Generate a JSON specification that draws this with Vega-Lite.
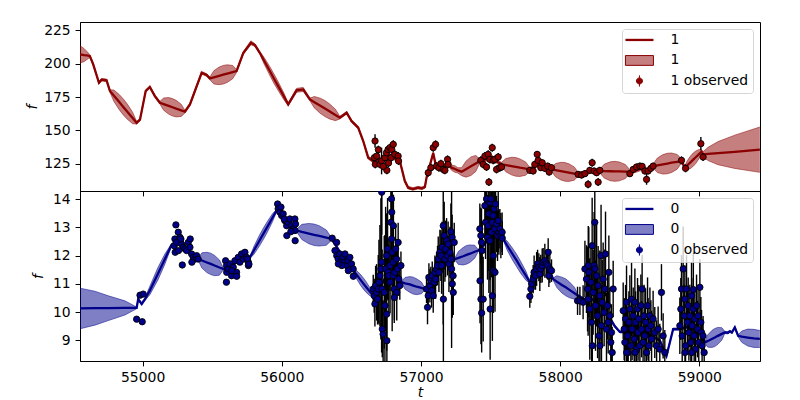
{
"$schema": "https://vega.github.io/schema/vega-lite/v6.json",
"padding": {"left": 25, "top": 21, "right": 5, "bottom": 5},
"config": {
 "font": "DejaVu Sans",
 "view": {"stroke": "black", "strokeWidth": 1},
 "axis": {"labelFontSize": 13.9, "titleFontSize": 13.9, "labelColor": "black", "titleColor": "black", "tickColor": "black", "domainColor": "black", "grid": false, "tickSize": 4.9, "labelPadding": 4.9, "tickWidth": 1, "domainWidth": 1, "titleFontWeight": "normal", "titleFontStyle": "italic", "labelFont": "DejaVu Sans", "titleFont": "DejaVu Sans"},
 "legend": {"labelFont": "DejaVu Sans", "labelFontSize": 13.9, "labelColor": "black"}
},
"datasets": {
 "gpTop": [
  {"t":54550,"m":207,"h":6.5},{"t":54578,"m":206.5,"h":5},{"t":54600,"m":206.2,"h":3},{"t":54621,"m":205.7,"h":1},
  {"t":54645,"m":199.5,"h":1},{"t":54686,"m":185.7,"h":1},{"t":54705,"m":188,"h":1},{"t":54741,"m":187.5,"h":1},
  {"t":54765,"m":179.5,"h":1},{"t":54794,"m":175.9,"h":4.3},{"t":54832,"m":171.2,"h":5.7},{"t":54861,"m":167.6,"h":6},
  {"t":54890,"m":164.0,"h":5.7},{"t":54928,"m":159.3,"h":4.3},{"t":54957,"m":155.7,"h":1},{"t":54981,"m":158,"h":1},
  {"t":55022,"m":179.5,"h":1},{"t":55052,"m":182.5,"h":1},{"t":55088,"m":175.7,"h":1},{"t":55124,"m":170.7,"h":1},
  {"t":55151,"m":169.7,"h":4.6},{"t":55187,"m":168.4,"h":6.2},{"t":55214,"m":167.35,"h":6.5},{"t":55241,"m":166.3,"h":6.2},
  {"t":55277,"m":165.0,"h":4.6},{"t":55304,"m":164,"h":1},{"t":55340,"m":169.5,"h":1},{"t":55424,"m":193.2,"h":1},
  {"t":55460,"m":191.5,"h":1},{"t":55483,"m":189,"h":1},{"t":55512,"m":189.8,"h":5},{"t":55550,"m":190.9,"h":6.6},
  {"t":55579,"m":191.75,"h":7},{"t":55608,"m":192.6,"h":6.6},{"t":55647,"m":193.7,"h":5},{"t":55675,"m":194.5,"h":1},
  {"t":55723,"m":208,"h":1},{"t":55778,"m":215.7,"h":1.5},{"t":55807,"m":214,"h":1},{"t":55843,"m":208,"h":1},
  {"t":55873,"m":202.2,"h":2.5},{"t":55914,"m":194.5,"h":3.3},{"t":55944,"m":188.75,"h":3.5},{"t":55975,"m":183,"h":3.3},
  {"t":56016,"m":175.3,"h":2.5},{"t":56046,"m":169.5,"h":1},{"t":56106,"m":180,"h":1.5},{"t":56154,"m":180.7,"h":1.5},
  {"t":56202,"m":173.2,"h":1},{"t":56234,"m":171.1,"h":4.3},{"t":56277,"m":168.4,"h":5.7},{"t":56310,"m":166.35,"h":6},
  {"t":56342,"m":164.3,"h":5.7},{"t":56385,"m":161.6,"h":4.3},{"t":56417,"m":159.5,"h":1},{"t":56466,"m":163.2,"h":1},
  {"t":56501,"m":157,"h":1},{"t":56549,"m":152,"h":1},{"t":56585,"m":142,"h":1},{"t":56621,"m":129.5,"h":1},
  {"t":56657,"m":127,"h":1.5},{"t":56705,"m":128,"h":1.5},{"t":56777,"m":131,"h":1.5},{"t":56848,"m":127,"h":1.5},
  {"t":56884,"m":112,"h":1},{"t":56908,"m":107,"h":1},{"t":56942,"m":106,"h":1},{"t":56978,"m":107,"h":1},
  {"t":57007,"m":106.5,"h":1},{"t":57028,"m":107.5,"h":1},{"t":57040,"m":114.5,"h":1},{"t":57088,"m":133,"h":1},
  {"t":57105,"m":124.5,"h":1},{"t":57136,"m":123.2,"h":1},{"t":57195,"m":124.5,"h":1},{"t":57220,"m":122,"h":2},
  {"t":57244,"m":121,"h":2.5},{"t":57265,"m":120,"h":2},{"t":57292,"m":119,"h":3},{"t":57323,"m":120.9,"h":6},
  {"t":57359,"m":123.1,"h":7},{"t":57394,"m":125.2,"h":6},{"t":57423,"m":127,"h":1.5},{"t":57459,"m":128,"h":1.5},
  {"t":57509,"m":130,"h":1.5},{"t":57553,"m":126,"h":1.5},{"t":57579,"m":124.5,"h":1.5},{"t":57610,"m":123.9,"h":5},
  {"t":57650,"m":123.2,"h":6.6},{"t":57681,"m":122.6,"h":7},{"t":57711,"m":122.0,"h":6.6},{"t":57752,"m":121.3,"h":5},
  {"t":57782,"m":120.7,"h":1.5},{"t":57833,"m":124,"h":1.5},{"t":57890,"m":122.5,"h":1.5},{"t":57938,"m":120.7,"h":1.5},
  {"t":57967,"m":120.1,"h":5},{"t":58005,"m":119.4,"h":6.6},{"t":58034,"m":118.85,"h":7},{"t":58063,"m":118.3,"h":6.6},
  {"t":58101,"m":117.6,"h":5},{"t":58129,"m":117,"h":1.5},{"t":58178,"m":118,"h":1.5},{"t":58228,"m":119.5,"h":1.5},
  {"t":58285,"m":119.5,"h":1.5},{"t":58318,"m":119.4,"h":5.3},{"t":58361,"m":119.3,"h":7.1},{"t":58393,"m":119.25,"h":7.5},
  {"t":58425,"m":119.2,"h":7.1},{"t":58468,"m":119.1,"h":5.3},{"t":58501,"m":119,"h":1.5},{"t":58544,"m":120,"h":1.5},
  {"t":58587,"m":121.5,"h":1.5},{"t":58630,"m":120,"h":1.5},{"t":58668,"m":123.2,"h":1.5},{"t":58699,"m":123.8,"h":5.5},
  {"t":58739,"m":124.5,"h":7.3},{"t":58770,"m":125.1,"h":7.7},{"t":58801,"m":125.7,"h":7.3},{"t":58841,"m":126.4,"h":5.5},
  {"t":58872,"m":127,"h":1.5},{"t":58896,"m":122,"h":1.5},{"t":58914,"m":123.8,"h":3.5},{"t":58938,"m":126.2,"h":4.7},
  {"t":58956,"m":128,"h":5},{"t":58974,"m":129.8,"h":4.7},{"t":58998,"m":132.2,"h":3.5},{"t":59016,"m":134,"h":1.5},
  {"t":59027,"m":132,"h":2},{"t":59063,"m":132.3,"h":5},{"t":59135,"m":132.9,"h":8.7},{"t":59255,"m":133.9,"h":12.5},
  {"t":59435,"m":135.5,"h":17}
 ],
 "obsTop": [
  {"t":56670,"m":142,"h":5},{"t":56694,"m":135.5,"h":3},{"t":56665,"m":129.5,"h":3},{"t":56682,"m":130.7,"h":3},
  {"t":56672,"m":124.5,"h":3},{"t":56705,"m":124.5,"h":3},{"t":56717,"m":127,"h":10},{"t":56741,"m":129.5,"h":3},
  {"t":56752,"m":133.2,"h":3},{"t":56764,"m":135.7,"h":3},{"t":56777,"m":137,"h":3},{"t":56790,"m":135.7,"h":3},
  {"t":56801,"m":139.5,"h":3},{"t":56755,"m":120,"h":3},{"t":56729,"m":123,"h":3},{"t":56767,"m":125.5,"h":3},
  {"t":56786,"m":129.5,"h":3},{"t":56812,"m":132,"h":3},{"t":56836,"m":130.7,"h":3},{"t":56839,"m":127,"h":3},
  {"t":57052,"m":118.2,"h":3},{"t":57071,"m":122,"h":3},{"t":57088,"m":137,"h":3},{"t":57105,"m":139.5,"h":3},
  {"t":57112,"m":123.2,"h":3},{"t":57129,"m":122,"h":3},{"t":57143,"m":125,"h":3},{"t":57160,"m":120.7,"h":3},
  {"t":57172,"m":120,"h":3},{"t":57191,"m":128.2,"h":3},{"t":57195,"m":124.5,"h":3},
  {"t":57430,"m":127.5,"h":3},{"t":57447,"m":124.5,"h":3},{"t":57459,"m":130.7,"h":3},{"t":57471,"m":122.5,"h":3},
  {"t":57483,"m":132,"h":3},{"t":57495,"m":128.2,"h":3},{"t":57512,"m":137,"h":3},{"t":57519,"m":127.5,"h":3},
  {"t":57531,"m":128.2,"h":3},{"t":57543,"m":120.7,"h":3},{"t":57555,"m":130,"h":3},{"t":57567,"m":122,"h":3},
  {"t":57579,"m":122.5,"h":3},{"t":57488,"m":111.2,"h":3},
  {"t":57782,"m":120,"h":2.5},{"t":57806,"m":119.5,"h":2.5},{"t":57818,"m":124.5,"h":2.5},{"t":57835,"m":132,"h":2.5},
  {"t":57842,"m":127.5,"h":2.5},{"t":57861,"m":122,"h":2.5},{"t":57871,"m":125.7,"h":2.5},{"t":57890,"m":121.5,"h":2.5},
  {"t":57910,"m":123.2,"h":2.5},{"t":57921,"m":118.7,"h":2.5},{"t":57938,"m":122,"h":2.5},
  {"t":58129,"m":117,"h":2.5},{"t":58154,"m":116.5,"h":2.5},{"t":58178,"m":117.5,"h":2.5},{"t":58201,"m":109.5,"h":3},
  {"t":58213,"m":120,"h":2.5},{"t":58230,"m":125.7,"h":3},{"t":58244,"m":119.5,"h":2.5},{"t":58262,"m":118.2,"h":2.5},
  {"t":58273,"m":111.2,"h":3},{"t":58285,"m":120,"h":2.5},
  {"t":58501,"m":117.5,"h":2.5},{"t":58525,"m":120.7,"h":2.5},{"t":58549,"m":122.5,"h":2.5},{"t":58573,"m":123.2,"h":2.5},
  {"t":58589,"m":123,"h":2.5},{"t":58609,"m":119.5,"h":2.5},{"t":58621,"m":113.2,"h":4},{"t":58632,"m":119.5,"h":2.5},
  {"t":58652,"m":121.5,"h":2.5},{"t":58668,"m":123.2,"h":2.5},
  {"t":58872,"m":127.5,"h":3},{"t":58901,"m":121.5,"h":3},{"t":59011,"m":140,"h":5},{"t":59027,"m":130,"h":3}
 ],
 "gpBot": [
  {"t":54550,"m":10.13,"h":0.72},{"t":54657,"m":10.14,"h":0.6},{"t":54753,"m":10.14,"h":0.44},{"t":54873,"m":10.15,"h":0.25},
  {"t":54923,"m":10.15,"h":0.12},{"t":54957,"m":10.15,"h":0.03},{"t":54968,"m":10.46,"h":0.04},{"t":54993,"m":10.29,"h":0.04},
  {"t":55017,"m":10.46,"h":0.05},{"t":55052,"m":10.77,"h":0.15},{"t":55110,"m":11.36,"h":0.22},{"t":55160,"m":11.88,"h":0.18},
  {"t":55208,"m":12.38,"h":0.05},{"t":55239,"m":12.45,"h":0.04},{"t":55304,"m":12.3,"h":0.04},{"t":55354,"m":12.1,"h":0.04},
  {"t":55399,"m":11.88,"h":0.04},{"t":55426,"m":11.83,"h":0.27},{"t":55462,"m":11.76,"h":0.36},{"t":55489,"m":11.71,"h":0.38},
  {"t":55517,"m":11.65,"h":0.36},{"t":55552,"m":11.58,"h":0.27},{"t":55579,"m":11.53,"h":0.04},{"t":55613,"m":11.5,"h":0.04},
  {"t":55677,"m":11.8,"h":0.04},{"t":55735,"m":11.95,"h":0.04},{"t":55771,"m":11.94,"h":0.04},{"t":55800,"m":12.19,"h":0.14},
  {"t":55838,"m":12.52,"h":0.19},{"t":55867,"m":12.77,"h":0.2},{"t":55896,"m":13.02,"h":0.19},{"t":55934,"m":13.35,"h":0.14},
  {"t":55963,"m":13.6,"h":0.04},{"t":56001,"m":13.45,"h":0.04},{"t":56058,"m":13.15,"h":0.04},{"t":56106,"m":12.89,"h":0.04},
  {"t":56144,"m":12.84,"h":0.27},{"t":56195,"m":12.78,"h":0.36},{"t":56232,"m":12.74,"h":0.38},{"t":56269,"m":12.7,"h":0.36},
  {"t":56320,"m":12.64,"h":0.27},{"t":56358,"m":12.59,"h":0.04},{"t":56396,"m":12.3,"h":0.04},{"t":56446,"m":11.9,"h":0.04},
  {"t":56489,"m":11.7,"h":0.04},{"t":56513,"m":11.47,"h":0.04},{"t":56535,"m":11.34,"h":0.14},{"t":56563,"m":11.16,"h":0.19},
  {"t":56585,"m":11.02,"h":0.2},{"t":56606,"m":10.89,"h":0.19},{"t":56635,"m":10.71,"h":0.14},{"t":56657,"m":10.58,"h":0.04},
  {"t":56690,"m":10.7,"h":0.04},{"t":56741,"m":11.2,"h":0.04},{"t":56791,"m":11.5,"h":0.04},{"t":56834,"m":11.3,"h":0.04},
  {"t":56861,"m":11.06,"h":0.04},{"t":56886,"m":11.02,"h":0.21},{"t":56920,"m":10.98,"h":0.28},{"t":56944,"m":10.94,"h":0.3},
  {"t":56969,"m":10.9,"h":0.28},{"t":57003,"m":10.86,"h":0.21},{"t":57028,"m":10.82,"h":0.04},{"t":57050,"m":10.8,"h":0.04},
  {"t":57100,"m":11.1,"h":0.04},{"t":57150,"m":11.6,"h":0.04},{"t":57201,"m":11.9,"h":0.04},{"t":57244,"m":11.88,"h":0.04},
  {"t":57269,"m":11.92,"h":0.23},{"t":57303,"m":11.98,"h":0.31},{"t":57327,"m":12.03,"h":0.33},{"t":57352,"m":12.07,"h":0.31},
  {"t":57386,"m":12.14,"h":0.23},{"t":57411,"m":12.18,"h":0.04},{"t":57459,"m":12.4,"h":0.04},{"t":57509,"m":12.9,"h":0.04},
  {"t":57553,"m":12.9,"h":0.04},{"t":57591,"m":12.59,"h":0.04},{"t":57619,"m":12.36,"h":0.16},{"t":57657,"m":12.06,"h":0.21},
  {"t":57687,"m":11.83,"h":0.22},{"t":57716,"m":11.59,"h":0.21},{"t":57754,"m":11.29,"h":0.16},{"t":57782,"m":11.06,"h":0.04},
  {"t":57818,"m":11.3,"h":0.04},{"t":57869,"m":11.6,"h":0.04},{"t":57912,"m":11.6,"h":0.04},{"t":57950,"m":11.17,"h":0.04},
  {"t":57976,"m":11.08,"h":0.21},{"t":58012,"m":10.96,"h":0.28},{"t":58040,"m":10.88,"h":0.3},{"t":58067,"m":10.79,"h":0.28},
  {"t":58103,"m":10.67,"h":0.21},{"t":58129,"m":10.58,"h":0.04},{"t":58178,"m":10.45,"h":0.04},{"t":58213,"m":10.5,"h":0.04},
  {"t":58285,"m":10.3,"h":0.04},{"t":58357,"m":9.8,"h":0.04},{"t":58393,"m":9.5,"h":0.04},{"t":58429,"m":9.3,"h":0.04},
  {"t":58501,"m":9.3,"h":0.04},{"t":58573,"m":9.3,"h":0.04},{"t":58645,"m":9.2,"h":0.04},{"t":58716,"m":9.0,"h":0.04},
  {"t":58764,"m":8.45,"h":0.04},{"t":58812,"m":9.4,"h":0.04},{"t":58860,"m":9.4,"h":0.04},{"t":58932,"m":9.5,"h":0.04},
  {"t":59004,"m":9.3,"h":0.04},{"t":59040,"m":8.93,"h":0.04},{"t":59061,"m":8.98,"h":0.22},{"t":59090,"m":9.05,"h":0.3},
  {"t":59111,"m":9.1,"h":0.32},{"t":59133,"m":9.16,"h":0.3},{"t":59162,"m":9.23,"h":0.22},{"t":59183,"m":9.28,"h":0.04},
  {"t":59205,"m":9.27,"h":0.04},{"t":59219,"m":9.32,"h":0.04},{"t":59234,"m":9.28,"h":0.04},{"t":59255,"m":9.46,"h":0.04},
  {"t":59279,"m":9.16,"h":0.04},{"t":59305,"m":9.13,"h":0.2},{"t":59348,"m":9.1,"h":0.3},{"t":59392,"m":9.07,"h":0.32},
  {"t":59435,"m":9.05,"h":0.3}
 ],
 "obsBot": [
  {"t":54981,"m":10.6,"h":0.06},{"t":55004,"m":10.64,"h":0.06},{"t":54957,"m":9.75,"h":0.06},{"t":54997,"m":9.66,"h":0.06},
  {"t":55239,"m":13.09,"h":0.06},{"t":55256,"m":12.83,"h":0.06},{"t":55232,"m":12.59,"h":0.06},{"t":55227,"m":12.35,"h":0.06},
  {"t":55244,"m":12.47,"h":0.06},{"t":55268,"m":12.65,"h":0.1},{"t":55280,"m":12.41,"h":0.06},{"t":55292,"m":12.3,"h":0.08},
  {"t":55304,"m":12.24,"h":0.06},{"t":55316,"m":12.18,"h":0.06},{"t":55328,"m":12.47,"h":0.1},{"t":55340,"m":12.3,"h":0.06},
  {"t":55352,"m":12.06,"h":0.06},{"t":55364,"m":11.94,"h":0.06},{"t":55376,"m":11.88,"h":0.06},{"t":55388,"m":12.0,"h":0.06},
  {"t":55399,"m":11.88,"h":0.06},{"t":55234,"m":12.12,"h":0.06},{"t":55285,"m":11.67,"h":0.06},{"t":55342,"m":12.59,"h":0.06},
  {"t":55354,"m":11.77,"h":0.06},{"t":55258,"m":12.18,"h":0.06},{"t":55275,"m":12.59,"h":0.06},
  {"t":55596,"m":11.82,"h":0.06},{"t":55603,"m":11.65,"h":0.06},{"t":55604,"m":11.41,"h":0.06},{"t":55602,"m":11.06,"h":0.06},
  {"t":55615,"m":11.53,"h":0.06},{"t":55627,"m":11.71,"h":0.06},{"t":55639,"m":11.29,"h":0.06},{"t":55651,"m":11.59,"h":0.06},
  {"t":55663,"m":11.82,"h":0.06},{"t":55675,"m":11.41,"h":0.06},{"t":55687,"m":11.94,"h":0.06},{"t":55699,"m":11.77,"h":0.06},
  {"t":55711,"m":12.06,"h":0.06},{"t":55723,"m":11.88,"h":0.1},{"t":55735,"m":12.12,"h":0.1},{"t":55747,"m":11.94,"h":0.06},
  {"t":55759,"m":11.77,"h":0.06},{"t":55760,"m":11.65,"h":0.06},{"t":55676,"m":11.27,"h":0.06},{"t":55640,"m":11.47,"h":0.06},
  {"t":55754,"m":11.88,"h":0.06},{"t":55764,"m":11.7,"h":0.06},
  {"t":55970,"m":13.83,"h":0.1},{"t":55974,"m":13.66,"h":0.06},{"t":55986,"m":13.54,"h":0.06},{"t":55999,"m":13.42,"h":0.06},
  {"t":56010,"m":13.48,"h":0.06},{"t":56022,"m":13.24,"h":0.06},{"t":56035,"m":13.06,"h":0.06},{"t":56046,"m":13.18,"h":0.06},
  {"t":56058,"m":13.3,"h":0.06},{"t":56070,"m":13.06,"h":0.06},{"t":56082,"m":12.95,"h":0.06},{"t":56094,"m":13.3,"h":0.06},
  {"t":56099,"m":13.12,"h":0.06},{"t":56095,"m":12.89,"h":0.06},{"t":56036,"m":12.71,"h":0.06},{"t":56096,"m":12.53,"h":0.06},
  {"t":55994,"m":13.72,"h":0.06},{"t":56017,"m":13.3,"h":0.06},{"t":56065,"m":12.85,"h":0.06},
  {"t":56362,"m":12.62,"h":0.06},{"t":56394,"m":12.47,"h":0.06},{"t":56382,"m":12.18,"h":0.06},{"t":56395,"m":12.0,"h":0.06},
  {"t":56405,"m":11.88,"h":0.06},{"t":56417,"m":12.06,"h":0.06},{"t":56430,"m":11.82,"h":0.06},{"t":56441,"m":11.94,"h":0.06},
  {"t":56453,"m":11.77,"h":0.06},{"t":56466,"m":11.65,"h":0.06},{"t":56477,"m":11.82,"h":0.06},{"t":56489,"m":11.94,"h":0.06},
  {"t":56501,"m":11.71,"h":0.06},{"t":56513,"m":11.53,"h":0.06},{"t":56514,"m":11.27,"h":0.06},{"t":56431,"m":11.65,"h":0.06},
  {"t":56454,"m":12.06,"h":0.06},{"t":56478,"m":11.47,"h":0.06},{"t":56406,"m":11.71,"h":0.06},
  {"t":56657,"m":10.82,"h":0.5},{"t":56664,"m":10.58,"h":0.6},{"t":56669,"m":10.29,"h":0.8},{"t":56674,"m":10.94,"h":0.7},
  {"t":56681,"m":10.7,"h":1.0},{"t":56688,"m":10.46,"h":0.9},{"t":56693,"m":10.82,"h":1.2},{"t":56698,"m":11.06,"h":1.5},
  {"t":56705,"m":11.29,"h":1.8},{"t":56712,"m":11.53,"h":2.5},{"t":56717,"m":11.77,"h":3.2},{"t":56721,"m":10.82,"h":1.4},
  {"t":56722,"m":9.4,"h":1.0},{"t":56728,"m":9.22,"h":1.2},{"t":56736,"m":10.7,"h":2.0},{"t":56741,"m":10.23,"h":2.5},
  {"t":56746,"m":11.53,"h":2.2},{"t":56753,"m":12.0,"h":1.5},{"t":56754,"m":9.93,"h":1.3},{"t":56760,"m":12.24,"h":1.8},
  {"t":56764,"m":11.41,"h":1.0},{"t":56769,"m":11.29,"h":1.3},{"t":56777,"m":11.65,"h":0.9},{"t":56778,"m":11.06,"h":1.1},
  {"t":56784,"m":13.18,"h":1.2},{"t":56789,"m":12.59,"h":0.9},{"t":56790,"m":13.54,"h":1.0},{"t":56788,"m":14.01,"h":1.4},
  {"t":56793,"m":12.12,"h":2.8},{"t":56800,"m":11.77,"h":1.0},{"t":56801,"m":11.29,"h":0.8},{"t":56808,"m":10.82,"h":1.2},
  {"t":56812,"m":11.41,"h":0.9},{"t":56818,"m":12.24,"h":0.8},{"t":56825,"m":11.88,"h":0.7},{"t":56826,"m":10.7,"h":1.0},
  {"t":56832,"m":11.53,"h":0.6},{"t":56836,"m":12.47,"h":0.7},{"t":56841,"m":11.17,"h":0.6},{"t":56848,"m":10.94,"h":0.5},
  {"t":56856,"m":11.65,"h":0.5},{"t":56718,"m":14.25,"h":1.5},{"t":56802,"m":13.06,"h":1.1},{"t":56755,"m":8.99,"h":1.0},
  {"t":56809,"m":10.52,"h":0.8},
  {"t":57040,"m":10.82,"h":0.5},{"t":57047,"m":10.17,"h":0.6},{"t":57052,"m":10.58,"h":0.5},{"t":57057,"m":11.23,"h":0.5},
  {"t":57064,"m":10.94,"h":0.6},{"t":57071,"m":11.11,"h":0.5},{"t":57076,"m":10.76,"h":0.6},{"t":57081,"m":11.29,"h":0.5},
  {"t":57088,"m":10.58,"h":0.6},{"t":57095,"m":11.06,"h":0.5},{"t":57100,"m":11.41,"h":0.6},{"t":57105,"m":11.17,"h":0.7},
  {"t":57112,"m":11.53,"h":0.6},{"t":57119,"m":11.65,"h":0.7},{"t":57124,"m":11.88,"h":0.8},{"t":57129,"m":11.41,"h":0.7},
  {"t":57136,"m":12.12,"h":0.8},{"t":57143,"m":12.0,"h":0.9},{"t":57148,"m":11.65,"h":1.0},{"t":57152,"m":12.3,"h":0.9},
  {"t":57160,"m":13.06,"h":3.5},{"t":57161,"m":10.46,"h":2.5},{"t":57167,"m":12.71,"h":1.2},{"t":57172,"m":11.88,"h":0.8},
  {"t":57177,"m":12.24,"h":1.0},{"t":57184,"m":12.53,"h":0.8},{"t":57191,"m":12.0,"h":0.7},{"t":57195,"m":12.41,"h":0.8},
  {"t":57201,"m":11.71,"h":1.0},{"t":57208,"m":12.12,"h":0.9},{"t":57215,"m":12.85,"h":1.0},{"t":57220,"m":11.53,"h":2.8},
  {"t":57224,"m":12.65,"h":0.8},{"t":57225,"m":11.0,"h":1.2},{"t":57231,"m":11.29,"h":0.8},{"t":57232,"m":10.7,"h":0.8},
  {"t":57239,"m":12.47,"h":0.7},{"t":57216,"m":11.88,"h":0.9},
  {"t":57423,"m":12.95,"h":0.9},{"t":57430,"m":12.71,"h":1.0},{"t":57435,"m":12.47,"h":1.2},{"t":57440,"m":12.18,"h":1.0},
  {"t":57424,"m":11.11,"h":1.5},{"t":57431,"m":10.46,"h":1.6},{"t":57436,"m":9.97,"h":1.4},{"t":57447,"m":10.46,"h":1.5},
  {"t":57459,"m":13.77,"h":1.2},{"t":57464,"m":13.18,"h":1.3},{"t":57471,"m":14.01,"h":1.4},{"t":57478,"m":12.65,"h":1.5},
  {"t":57483,"m":13.06,"h":1.6},{"t":57488,"m":13.48,"h":2.8},{"t":57495,"m":13.89,"h":1.5},{"t":57496,"m":12.53,"h":1.4},
  {"t":57502,"m":14.01,"h":2.5},{"t":57507,"m":12.83,"h":1.6},{"t":57512,"m":13.18,"h":1.4},{"t":57519,"m":13.42,"h":1.2},
  {"t":57520,"m":12.0,"h":1.3},{"t":57526,"m":13.66,"h":1.0},{"t":57531,"m":12.95,"h":1.5},{"t":57536,"m":13.83,"h":1.2},
  {"t":57543,"m":13.12,"h":1.0},{"t":57550,"m":12.71,"h":0.9},{"t":57555,"m":13.24,"h":1.1},{"t":57560,"m":12.83,"h":0.8},
  {"t":57567,"m":12.95,"h":0.7},{"t":57574,"m":12.71,"h":0.8},{"t":57583,"m":12.83,"h":0.7},{"t":57584,"m":12.62,"h":0.6},
  {"t":57521,"m":11.47,"h":1.5},{"t":57532,"m":11.41,"h":1.4},{"t":57513,"m":10.58,"h":1.6},{"t":57497,"m":10.11,"h":1.8},
  {"t":57782,"m":10.56,"h":0.4},{"t":57790,"m":10.82,"h":0.5},{"t":57795,"m":11.0,"h":0.5},{"t":57806,"m":11.17,"h":0.5},
  {"t":57813,"m":11.41,"h":0.6},{"t":57823,"m":11.29,"h":0.5},{"t":57831,"m":11.53,"h":0.6},{"t":57838,"m":11.71,"h":0.5},
  {"t":57847,"m":11.59,"h":0.5},{"t":57854,"m":11.35,"h":0.6},{"t":57861,"m":11.53,"h":0.5},{"t":57871,"m":11.65,"h":0.6},
  {"t":57878,"m":11.77,"h":0.5},{"t":57890,"m":11.82,"h":0.6},{"t":57902,"m":11.71,"h":0.5},{"t":57910,"m":11.65,"h":0.5},
  {"t":57919,"m":11.29,"h":0.4},{"t":57926,"m":11.53,"h":0.5},{"t":57938,"m":11.47,"h":0.4},{"t":57914,"m":12.12,"h":0.5},
  {"t":58125,"m":10.4,"h":0.5},{"t":58142,"m":10.4,"h":0.5},{"t":58165,"m":10.35,"h":0.6},
  {"t":58178,"m":11.53,"h":1.0},{"t":58189,"m":11.17,"h":1.2},{"t":58197,"m":10.82,"h":1.5},{"t":58201,"m":10.46,"h":1.3},
  {"t":58206,"m":11.41,"h":1.6},{"t":58213,"m":10.11,"h":1.8},{"t":58221,"m":11.06,"h":1.4},{"t":58226,"m":9.64,"h":2.0},
  {"t":58230,"m":12.35,"h":1.7},{"t":58237,"m":10.7,"h":1.5},{"t":58244,"m":11.65,"h":1.9},{"t":58249,"m":13.18,"h":2.2},
  {"t":58254,"m":10.23,"h":1.6},{"t":58262,"m":11.29,"h":1.8},{"t":58269,"m":9.87,"h":1.5},{"t":58273,"m":10.94,"h":1.4},
  {"t":58279,"m":9.16,"h":1.3},{"t":58285,"m":10.58,"h":1.6},{"t":58294,"m":12.0,"h":1.8},{"t":58297,"m":9.52,"h":1.4},
  {"t":58302,"m":10.35,"h":1.5},{"t":58309,"m":11.17,"h":1.3},{"t":58316,"m":9.99,"h":1.2},{"t":58321,"m":10.82,"h":1.4},
  {"t":58326,"m":12.06,"h":1.5},{"t":58333,"m":9.4,"h":1.3},{"t":58341,"m":10.23,"h":1.2},{"t":58345,"m":9.64,"h":1.1},
  {"t":58350,"m":11.41,"h":1.3},{"t":58357,"m":9.87,"h":1.0},{"t":58364,"m":8.93,"h":1.1},{"t":58369,"m":9.28,"h":1.0},
  {"t":58374,"m":8.57,"h":0.9},{"t":58381,"m":10.82,"h":1.0},{"t":58231,"m":8.81,"h":1.5},{"t":58286,"m":8.81,"h":1.4},
  {"t":58202,"m":11.65,"h":1.4},{"t":58250,"m":11.53,"h":1.6},
  {"t":58453,"m":10.05,"h":1.0},{"t":58460,"m":9.4,"h":1.1},{"t":58465,"m":8.93,"h":1.0},{"t":58470,"m":9.76,"h":1.2},
  {"t":58477,"m":10.35,"h":1.3},{"t":58484,"m":9.16,"h":1.0},{"t":58489,"m":8.57,"h":1.0},{"t":58494,"m":9.64,"h":1.1},
  {"t":58501,"m":10.11,"h":1.2},{"t":58508,"m":8.81,"h":1.0},{"t":58513,"m":10.46,"h":1.3},{"t":58517,"m":9.4,"h":1.1},
  {"t":58525,"m":9.87,"h":1.0},{"t":58532,"m":9.05,"h":1.0},{"t":58537,"m":10.35,"h":1.2},{"t":58542,"m":9.64,"h":1.1},
  {"t":58549,"m":8.69,"h":0.9},{"t":58556,"m":10.11,"h":1.1},{"t":58560,"m":9.28,"h":1.0},{"t":58565,"m":9.76,"h":1.2},
  {"t":58573,"m":8.81,"h":1.0},{"t":58580,"m":10.23,"h":1.1},{"t":58585,"m":9.4,"h":1.0},{"t":58589,"m":10.82,"h":1.2},
  {"t":58596,"m":8.93,"h":1.0},{"t":58603,"m":9.87,"h":1.1},{"t":58609,"m":9.16,"h":1.0},{"t":58614,"m":9.64,"h":1.2},
  {"t":58621,"m":8.57,"h":1.0},{"t":58628,"m":10.23,"h":1.0},{"t":58632,"m":9.4,"h":1.1},{"t":58637,"m":8.81,"h":1.0},
  {"t":58645,"m":9.87,"h":1.0},{"t":58652,"m":9.52,"h":0.9},{"t":58657,"m":9.05,"h":1.0},{"t":58668,"m":9.76,"h":1.0},
  {"t":58680,"m":9.28,"h":0.9},{"t":58693,"m":8.81,"h":0.9},{"t":58704,"m":9.4,"h":0.8},{"t":58716,"m":8.69,"h":0.9},
  {"t":58728,"m":10.7,"h":1.0},{"t":58740,"m":9.16,"h":0.8},{"t":58752,"m":8.57,"h":0.8},{"t":58478,"m":8.57,"h":1.0},
  {"t":58538,"m":8.57,"h":1.0},
  {"t":58860,"m":9.52,"h":1.0},{"t":58867,"m":10.11,"h":1.1},{"t":58872,"m":10.82,"h":1.2},{"t":58877,"m":9.16,"h":1.0},
  {"t":58884,"m":11.53,"h":1.5},{"t":58891,"m":9.87,"h":1.1},{"t":58896,"m":10.46,"h":1.2},{"t":58901,"m":8.81,"h":1.0},
  {"t":58908,"m":10.82,"h":1.2},{"t":58915,"m":9.64,"h":1.1},{"t":58920,"m":10.23,"h":1.0},{"t":58925,"m":9.28,"h":1.0},
  {"t":58932,"m":9.87,"h":1.1},{"t":58939,"m":8.93,"h":1.0},{"t":58944,"m":10.58,"h":1.2},{"t":58948,"m":9.52,"h":1.0},
  {"t":58956,"m":10.11,"h":1.1},{"t":58957,"m":10.8,"h":1.3},{"t":58963,"m":9.16,"h":1.0},{"t":58968,"m":9.76,"h":1.0},
  {"t":58973,"m":8.69,"h":0.9},{"t":58980,"m":10.23,"h":1.1},{"t":58987,"m":9.4,"h":1.0},{"t":58991,"m":9.87,"h":1.0},
  {"t":58996,"m":8.93,"h":0.9},{"t":59004,"m":10.88,"h":1.0},{"t":59011,"m":9.64,"h":0.9},{"t":59016,"m":9.28,"h":0.8},
  {"t":59020,"m":8.81,"h":0.8},{"t":59027,"m":9.16,"h":0.7},{"t":59035,"m":8.57,"h":0.7},{"t":58897,"m":8.57,"h":1.0},
  {"t":58945,"m":8.57,"h":1.0}
 ]
},
"spacing": 0,
"bounds": "flush",
"resolve": {"scale": {"color": "independent"}, "legend": {"color": "independent"}},
"vconcat": [
 {
  "width": 680, "height": 169,
  "encoding": {
   "x": {"field": "t", "type": "quantitative", "scale": {"domain": [54550, 59436], "nice": false, "zero": false}, "axis": {"values": [55000, 56000, 57000, 58000, 59000], "labels": false, "title": null}},
   "y": {"field": "m", "type": "quantitative", "scale": {"domain": [104.5, 231.3], "nice": false, "zero": false}, "axis": {"values": [125, 150, 175, 200, 225], "title": "f", "titlePadding": 4}}
  },
  "layer": [
   {"data": {"name": "gpTop"}, "mark": {"type": "errorband", "opacity": 0.5, "borders": {"strokeWidth": 1, "opacity": 0.5}},
    "encoding": {"yError": {"field": "h"}, "color": {"datum": "band1"}}},
   {"data": {"name": "gpTop"}, "mark": {"type": "line", "strokeWidth": 2.3, "clip": true},
    "encoding": {"color": {"datum": "line1", "scale": {"domain": ["line1", "band1", "obs1"], "range": ["#8b0000", "#8b0000", "#8b0000"]},
      "legend": {"title": null, "orient": "top-right", "offset": 7, "labelExpr": "datum.value === 'obs1' ? '1 observed' : '1'", "symbolSize": 196, "padding": 4, "rowPadding": 5.5, "symbolOffset": 6.5, "labelOffset": 24, "fillColor": "rgba(255,255,255,0.8)", "strokeColor": "rgba(204,204,204,0.8)", "cornerRadius": 3,
       "encode": {"symbols": {"update": {
        "shape": {"signal": "datum.value === 'line1' ? 'M-2,0L2,0' : datum.value === 'band1' ? 'M-2,-0.7L2,-0.7L2,0.7L-2,0.7Z' : 'M0,-0.8L0,-0.43M0,0.43L0,0.8M0.43,0A0.43,0.43 0 1,1 -0.43,0A0.43,0.43 0 1,1 0.43,0Z'"},
        "fill": {"signal": "datum.value === 'line1' ? 'transparent' : '#8b0000'"},
        "fillOpacity": {"signal": "datum.value === 'band1' ? 0.5 : 1"},
        "stroke": {"signal": "datum.value === 'line1' ? '#8b0000' : datum.value === 'band1' ? 'rgba(139,0,0,0.5)' : 'black'"},
        "strokeWidth": {"signal": "datum.value === 'line1' ? 2.3 : 1"},
        "size": {"value": 196},
        "opacity": {"value": 1}
       }}}}}}},
   {"data": {"name": "obsTop"}, "mark": {"type": "errorbar", "color": "black", "thickness": 1.4}, "encoding": {"yError": {"field": "h"}}},
   {"data": {"name": "obsTop"}, "mark": {"type": "point", "filled": true, "shape": "circle", "size": 40, "opacity": 1, "stroke": "black", "strokeWidth": 0.9, "clip": true}, "encoding": {"color": {"datum": "obs1"}}}
  ]
 },
 {
  "width": 680, "height": 170,
  "encoding": {
   "x": {"field": "t", "type": "quantitative", "scale": {"domain": [54550, 59436], "nice": false, "zero": false}, "axis": {"values": [55000, 56000, 57000, 58000, 59000], "format": "d", "title": "t", "titlePadding": 1}},
   "y": {"field": "m", "type": "quantitative", "scale": {"domain": [8.27, 14.29], "nice": false, "zero": false}, "axis": {"values": [9, 10, 11, 12, 13, 14], "title": "f", "titlePadding": 7}}
  },
  "layer": [
   {"data": {"name": "gpBot"}, "mark": {"type": "errorband", "opacity": 0.5, "borders": {"strokeWidth": 1, "opacity": 0.5}},
    "encoding": {"yError": {"field": "h"}, "color": {"datum": "band0"}}},
   {"data": {"name": "gpBot"}, "mark": {"type": "line", "strokeWidth": 2.3, "clip": true},
    "encoding": {"color": {"datum": "line0", "scale": {"domain": ["line0", "band0", "obs0"], "range": ["#00008b", "#00008b", "#00008b"]},
      "legend": {"title": null, "orient": "top-right", "offset": 7, "labelExpr": "datum.value === 'obs0' ? '0 observed' : '0'", "symbolSize": 196, "padding": 4, "rowPadding": 5.5, "symbolOffset": 6.5, "labelOffset": 24, "fillColor": "rgba(255,255,255,0.8)", "strokeColor": "rgba(204,204,204,0.8)", "cornerRadius": 3,
       "encode": {"symbols": {"update": {
        "shape": {"signal": "datum.value === 'line0' ? 'M-2,0L2,0' : datum.value === 'band0' ? 'M-2,-0.7L2,-0.7L2,0.7L-2,0.7Z' : 'M0,-0.8L0,-0.43M0,0.43L0,0.8M0.43,0A0.43,0.43 0 1,1 -0.43,0A0.43,0.43 0 1,1 0.43,0Z'"},
        "fill": {"signal": "datum.value === 'line0' ? 'transparent' : '#00008b'"},
        "fillOpacity": {"signal": "datum.value === 'band0' ? 0.5 : 1"},
        "stroke": {"signal": "datum.value === 'line0' ? '#00008b' : datum.value === 'band0' ? 'rgba(0,0,139,0.5)' : 'black'"},
        "strokeWidth": {"signal": "datum.value === 'line0' ? 2.3 : 1"},
        "size": {"value": 196},
        "opacity": {"value": 1}
       }}}}}}},
   {"data": {"name": "obsBot"}, "mark": {"type": "errorbar", "color": "black", "thickness": 1.4, "clip": true}, "encoding": {"yError": {"field": "h"}}},
   {"data": {"name": "obsBot"}, "mark": {"type": "point", "filled": true, "shape": "circle", "size": 40, "opacity": 1, "stroke": "black", "strokeWidth": 0.9, "clip": true}, "encoding": {"color": {"datum": "obs0"}}}
  ]
 }
]
}
